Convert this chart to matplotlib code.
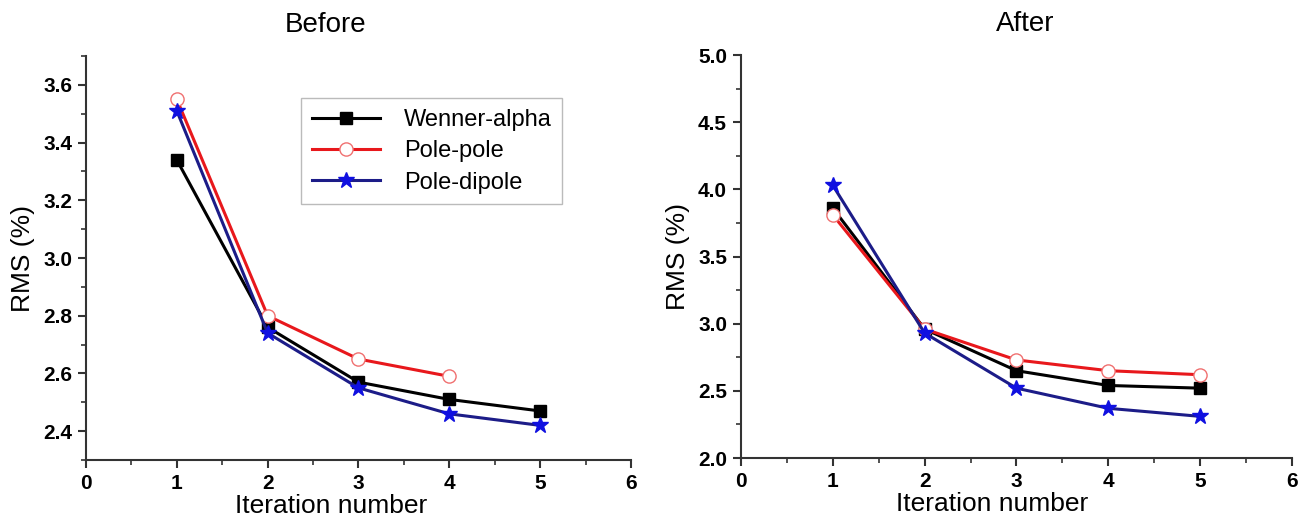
import matplotlib.pyplot as plt
from matplotlib.ticker import MultipleLocator

plt.rcParams['font.family'] = ['Liberation Sans', 'DejaVu Sans']

iterations = [1, 2, 3, 4, 5]

# before
before_wenner = [3.34, 2.76, 2.57, 2.51, 2.47]
before_polepole = [3.55, 2.80, 2.65, 2.59]
before_poledipole = [3.51, 2.74, 2.55, 2.46, 2.42]

# after
after_wenner = [3.86, 2.96, 2.65, 2.54, 2.52]
after_polepole = [3.81, 2.96, 2.73, 2.65, 2.62]
after_poledipole = [4.03, 2.93, 2.52, 2.37, 2.31]

labels = ['Wenner-alpha', 'Pole-pole', 'Pole-dipole']


def draw_series(ax, wenner, polepole, poledipole):
    ax.plot(iterations[:len(wenner)], wenner, color='black', lw=2.2,
            marker='s', ms=8.5, mfc='black', mec='black', label=labels[0])
    ax.plot(iterations[:len(polepole)], polepole, color='#e8181c', lw=2.2,
            marker='o', ms=9.5, mfc='white', mec='#f07070', label=labels[1])
    ax.plot(iterations[:len(poledipole)], poledipole, color='#1c1c88', lw=2.2,
            marker='*', ms=12, mfc='#1010e0', mec='#1010e0', label=labels[2])


def style_axes(ax, ymajor, yminor, xlab_x):
    ax.spines['top'].set_visible(False)
    ax.spines['right'].set_visible(False)
    for s in ('left', 'bottom'):
        ax.spines[s].set_linewidth(1.5)
        ax.spines[s].set_color('#333333')
    ax.set_xlim(0, 6)
    ax.xaxis.set_major_locator(MultipleLocator(1))
    ax.xaxis.set_minor_locator(MultipleLocator(0.5))
    ax.yaxis.set_major_locator(MultipleLocator(ymajor))
    ax.yaxis.set_minor_locator(MultipleLocator(yminor))
    ax.tick_params(which='major', direction='out', length=6, width=1.5,
                   labelsize=15, color='#333333', pad=4)
    ax.tick_params(which='minor', direction='out', length=3.5, width=1.2,
                   color='#333333')
    for t in ax.get_xticklabels() + ax.get_yticklabels():
        t.set_fontweight('bold')
    ax.set_xlabel('Iteration number', fontsize=19, labelpad=0)
    ax.xaxis.set_label_coords(xlab_x, -0.085)
    ax.set_ylabel('RMS (%)', fontsize=19, labelpad=6)


fig = plt.figure(figsize=(13.11, 5.29), dpi=100)
ax1 = fig.add_axes([0.0656, 0.1304, 0.4157, 0.7636])
ax2 = fig.add_axes([0.5652, 0.1342, 0.4203, 0.7618])

draw_series(ax1, before_wenner, before_polepole, before_poledipole)
ax1.set_ylim(2.3, 3.7)
style_axes(ax1, 0.2, 0.1, 0.45)
ax1.set_title('Before', fontsize=20, pad=17, x=0.44)
ax1.legend(loc='upper left', bbox_to_anchor=(0.373, 0.925), fontsize=17,
           frameon=True, fancybox=False, edgecolor='#aaaaaa',
           handlelength=2.9, handletextpad=1.0, borderpad=0.45, labelspacing=0.4)

draw_series(ax2, after_wenner, after_polepole, after_poledipole)
ax2.set_ylim(2.0, 5.0)
style_axes(ax2, 0.5, 0.25, 0.455)
ax2.set_title('After', fontsize=20, pad=17, x=0.515)

fig.savefig('out.png', dpi=100)
